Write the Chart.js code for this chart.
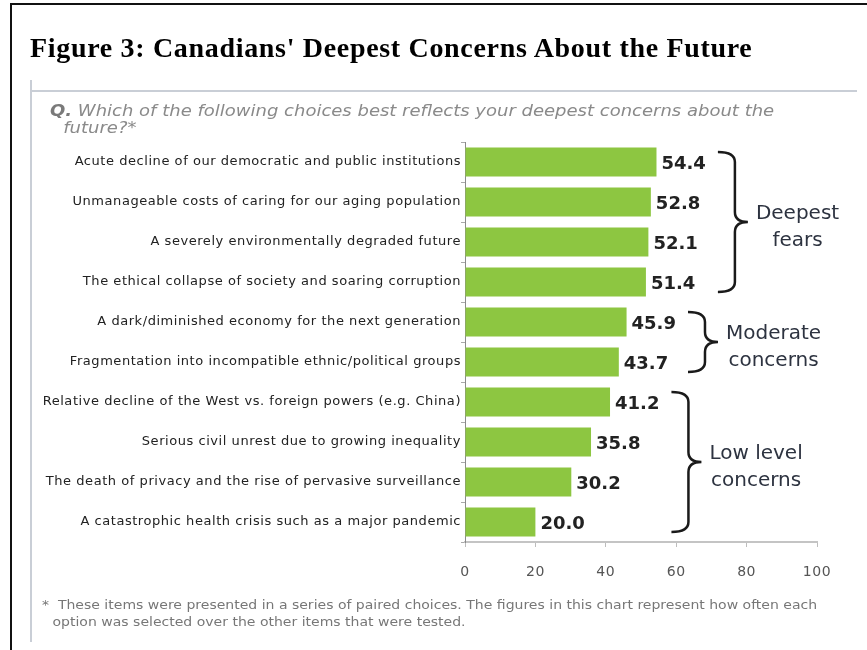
<!DOCTYPE html>
<html>
<head>
<meta charset="utf-8">
<script src="https://cdn.jsdelivr.net/npm/chart.js@4.4.1/dist/chart.umd.min.js"></script>
<style>
  body { margin: 0; background: #fff; }
  #wrap { position: relative; width: 867px; height: 650px; overflow: hidden; }
  #c { position: absolute; left: 0; top: 0; }
  .frameTop { position: absolute; left: 10px; top: 3px; width: 857px; height: 2px; background: #111; }
  .frameLeft { position: absolute; left: 10px; top: 3px; width: 2px; height: 647px; background: #111; }
  .grayV { position: absolute; left: 30px; top: 80px; width: 2px; height: 562px; background: #c9ced6; }
  .grayH { position: absolute; left: 30px; top: 90px; width: 827px; height: 2px; background: #c9ced6; }
  .title { position: absolute; left: 30px; top: 34px; font: bold 28px/28px "Liberation Serif", "Times New Roman", serif; letter-spacing: 0.68px; color: #000; white-space: nowrap; }
  .question { position: absolute; left: 50px; top: 103px; font: italic 15px/17px "DejaVu Sans", sans-serif; color: #8a8a8a; white-space: nowrap; transform: scaleX(1.2); transform-origin: 0 0; }
  .question b { font-style: italic; color: #7a7a7a; }
  .question .l2 { padding-left: 11px; }
  .foot { position: absolute; left: 42px; top: 597px; font: 12px/17px "DejaVu Sans", sans-serif; color: #777; white-space: nowrap; transform: scaleX(1.168); transform-origin: 0 0; }
  .foot .l2 { padding-left: 9px; }
</style>
</head>
<body>
<div id="wrap">
  <canvas id="c" width="867" height="650"></canvas>
  <div class="frameTop"></div>
  <div class="frameLeft"></div>
  <div class="grayV"></div>
  <div class="grayH"></div>
  <div class="title">Figure 3: Canadians' Deepest Concerns About the Future</div>
  <div class="question"><b>Q.</b> Which of the following choices best reflects your deepest concerns about the<br><span class="l2">future?*</span></div>
  <div class="foot">*&nbsp; These items were presented in a series of paired choices. The figures in this chart represent how often each<br><span class="l2">option was selected over the other items that were tested.</span></div>
</div>
<script>
// chart data
const categories = [
    'Acute decline of our democratic and public institutions',
    'Unmanageable costs of caring for our aging population',
    'A severely environmentally degraded future',
    'The ethical collapse of society and soaring corruption',
    'A dark/diminished economy for the next generation',
    'Fragmentation into incompatible ethnic/political groups',
    'Relative decline of the West vs. foreign powers (e.g. China)',
    'Serious civil unrest due to growing inequality',
    'The death of privacy and the rise of pervasive surveillance',
    'A catastrophic health crisis such as a major pandemic'
]
const values = [54.4, 52.8, 52.1, 51.4, 45.9, 43.7, 41.2, 35.8, 30.2, 20.0]
const xTicks = [0, 20, 40, 60, 80, 100]

// brace groups
const groupNames = [['Deepest', 'fears'], ['Moderate', 'concerns'], ['Low level', 'concerns']]
const groupFirst = [0, 4, 6]
const groupLast = [3, 5, 9]

const valueFont = 'bold 18px "DejaVu Sans", sans-serif'

// the labels in the picture are wide, so space the axis text out a little
const spacing = {
    id: 'spacing',
    beforeDraw(chart) { chart.ctx.letterSpacing = '0.55px' },
    beforeDatasetsDraw(chart) { chart.ctx.letterSpacing = '0px' }
}

const valueLabels = {
    id: 'valueLabels',
    afterDatasetsDraw(chart) {
        const ctx = chart.ctx
        const bars = chart.getDatasetMeta(0).data
        ctx.save()
        ctx.font = valueFont
        ctx.fillStyle = '#222'
        ctx.textAlign = 'left'
        ctx.textBaseline = 'middle'
        bars.forEach((bar, i) => {
            ctx.fillText(values[i].toFixed(1), bar.x + 5, bar.y + 2)
        })
        ctx.restore()
    }
}

const braces = {
    id: 'braces',
    afterDatasetsDraw(chart) {
        const ctx = chart.ctx
        const bars = chart.getDatasetMeta(0).data
        ctx.save()
        for (let g = 0; g < groupNames.length; g++) {
            ctx.font = valueFont
            let x0 = 0
            for (let i = groupFirst[g]; i <= groupLast[g]; i++) {
                const end = bars[i].x + 5 + ctx.measureText(values[i].toFixed(1)).width
                if (end > x0) x0 = end
            }
            x0 += 12
            const yTop = bars[groupFirst[g]].y - 10
            const yBot = bars[groupLast[g]].y + 10
            const yMid = (yTop + yBot) / 2
            const xv = x0 + 17
            const xt = x0 + 30
            const r = 10
            ctx.beginPath()
            ctx.moveTo(x0, yTop)
            ctx.quadraticCurveTo(xv, yTop, xv, yTop + r)
            ctx.lineTo(xv, yMid - r)
            ctx.quadraticCurveTo(xv, yMid, xt, yMid)
            ctx.quadraticCurveTo(xv, yMid, xv, yMid + r)
            ctx.lineTo(xv, yBot - r)
            ctx.quadraticCurveTo(xv, yBot, x0, yBot)
            ctx.lineWidth = 2.5
            ctx.strokeStyle = '#1a1a1a'
            ctx.stroke()

            ctx.font = '20px "DejaVu Sans", sans-serif'
            ctx.fillStyle = '#2d3340'
            ctx.textAlign = 'center'
            ctx.textBaseline = 'middle'
            const w = Math.max(...groupNames[g].map(s => ctx.measureText(s).width))
            const cx = xt + 8 + w / 2
            groupNames[g].forEach((s, k) => {
                ctx.fillText(s, cx, yMid - 8.5 + k * 27)
            })
        }
        ctx.restore()
    }
}

const ctx = document.getElementById('c').getContext('2d')
const chart = new Chart(ctx, {
    type: 'bar',
    data: {
        labels: categories,
        datasets: [{
            data: values,
            backgroundColor: '#8dc641',
            borderWidth: 0,
            barPercentage: 0.725,
            categoryPercentage: 1
        }]
    },
    options: {
        indexAxis: 'y',
        responsive: false,
        animation: false,
        layout: { padding: { left: 0, right: 50, top: 142, bottom: 68 } },
        plugins: { legend: { display: false }, tooltip: { enabled: false } },
        scales: {
            x: {
                min: 0,
                max: 100,
                afterBuildTicks: s => { s.ticks = xTicks.map(v => ({ value: v })) },
                afterFit: s => { s.height = 40 },
                grid: { drawOnChartArea: false, drawTicks: true, tickLength: 5, color: '#bdbdbd' },
                border: { display: true, color: '#c4c4c4', width: 2 },
                ticks: { color: '#555', padding: 17, font: { family: '"DejaVu Sans", sans-serif', size: 14 } }
            },
            y: {
                afterFit: s => { s.width = 465 },
                grid: { drawOnChartArea: false, drawTicks: true, tickLength: 4, color: '#aaa', offset: true },
                border: { display: true, color: '#8a8a8a', width: 1 },
                ticks: { color: '#222', padding: 0, autoSkip: false, font: { family: '"DejaVu Sans", sans-serif', size: 13 } }
            }
        }
    },
    plugins: [spacing, valueLabels, braces]
})
</script>
</body>
</html>
